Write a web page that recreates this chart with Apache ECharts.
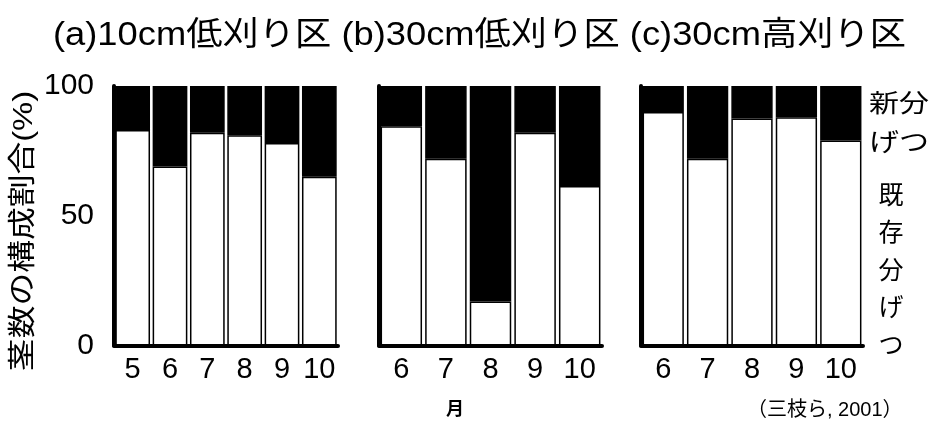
<!DOCTYPE html>
<html>
<head>
<meta charset="utf-8">
<script src="https://cdn.jsdelivr.net/npm/echarts@6/dist/echarts.min.js"></script>
<style>
  html, body { margin: 0; padding: 0; background: #fff; }
  #chart { width: 935px; height: 424px; }
</style>
</head>
<body>
<div id="chart"></div>
<script>
// Months sampled in each plot
const monthsA = ['5', '6', '7', '8', '9', '10'];
const monthsB = ['6', '7', '8', '9', '10'];
const monthsC = ['6', '7', '8', '9', '10'];

// Share of existing tillers (%), white part of each bar
const existingA = [83, 69, 82, 81, 78, 65];
const existingB = [84.5, 72, 17, 82, 61.5];
const existingC = [90, 72, 87.5, 88, 79];

// Share of new tillers (%), black part of each bar
const newA = [17, 31, 18, 19, 22, 35];
const newB = [15.5, 28, 83, 18, 38.5];
const newC = [10, 28, 12.5, 12, 21];

const yTicks = [0, 50, 100];

const panelTitle = '(a)10cm低刈り区 (b)30cm低刈り区 (c)30cm高刈り区';
const yName = '茎数の構成割合(%)';
const xName = '月';
const sourceNote = '（三枝ら, 2001）';
const newLabel = ['新分', 'げつ'];
const existingLabel = ['既', '存', '分', 'げ', 'つ'];

const FONT = '"Liberation Sans", Arial, "Noto Sans CJK JP", sans-serif';

const chart = echarts.init(document.getElementById('chart'), null, { renderer: 'canvas' });

const panels = [
  { months: monthsA, existing: existingA, fresh: newA, left: 114, width: 224 },
  { months: monthsB, existing: existingB, fresh: newB, left: 379, width: 223 },
  { months: monthsC, existing: existingC, fresh: newC, left: 641, width: 222 }
];

const grids = [], xAxes = [], yAxes = [], series = [];
panels.forEach((p, i) => {
  grids.push({ left: p.left, top: 86, width: p.width, height: 259.5 });
  xAxes.push({
    type: 'category', gridIndex: i, data: p.months,
    axisLine: { show: true, lineStyle: { color: '#000', width: 4 } },
    axisTick: { show: false },
    axisLabel: { color: '#000', fontSize: 29, fontFamily: FONT, margin: 10, interval: 0 }
  });
  yAxes.push({
    type: 'value', gridIndex: i, min: 0, max: 100, interval: 50,
    axisLine: { show: true, lineStyle: { color: '#000', width: 4 } },
    axisTick: { show: false },
    splitLine: { show: false },
    axisLabel: {
      show: i === 0, color: '#000', fontSize: 30, fontFamily: FONT, margin: 20,
      formatter: v => (yTicks.indexOf(v) >= 0 ? String(v) : '')
    }
  });
  series.push({
    name: '既存分げつ', type: 'bar', stack: 'p' + i,
    xAxisIndex: i, yAxisIndex: i, data: p.existing,
    barCategoryGap: '7%',
    itemStyle: { color: '#fff', borderColor: '#000', borderWidth: 1.5 },
    emphasis: { disabled: true }
  });
  series.push({
    name: '新分げつ', type: 'bar', stack: 'p' + i,
    xAxisIndex: i, yAxisIndex: i, data: p.fresh,
    barCategoryGap: '7%',
    itemStyle: { color: '#000', borderColor: '#000', borderWidth: 1.5 },
    emphasis: { disabled: true }
  });
});

const graphics = [
  {
    type: 'text', x: 53, y: 36, scaleX: 1.1,
    style: { text: panelTitle, fontSize: 33, fontFamily: FONT, fill: '#000',
             textAlign: 'left', textVerticalAlign: 'middle' }
  },
  {
    type: 'text', x: 24, y: 231, rotation: Math.PI / 2, scaleX: 1.17,
    style: { text: yName, fontSize: 28, fontFamily: FONT, fill: '#000',
             textAlign: 'center', textVerticalAlign: 'middle' }
  },
  {
    type: 'text', x: 455, y: 410,
    style: { text: xName, fontSize: 18, fontWeight: 'bold', fontFamily: FONT, fill: '#000',
             textAlign: 'center', textVerticalAlign: 'middle' }
  },
  {
    type: 'text', x: 747, y: 410,
    style: { text: sourceNote, fontSize: 20, fontFamily: FONT, fill: '#000',
             textAlign: 'left', textVerticalAlign: 'middle' }
  }
];
newLabel.forEach((t, k) => {
  graphics.push({
    type: 'text', x: 869, y: 105 + k * 39, scaleX: 1.2,
    style: { text: t, fontSize: 25, fontFamily: FONT, fill: '#000',
             textAlign: 'left', textVerticalAlign: 'middle' }
  });
});
existingLabel.forEach((t, k) => {
  graphics.push({
    type: 'text', x: 891, y: 197 + k * 37.5,
    style: { text: t, fontSize: 25, fontFamily: FONT, fill: '#000',
             textAlign: 'center', textVerticalAlign: 'middle' }
  });
});

chart.setOption({
  animation: false,
  backgroundColor: '#fff',
  grid: grids,
  xAxis: xAxes,
  yAxis: yAxes,
  series: series,
  graphic: graphics
});
</script>
</body>
</html>
